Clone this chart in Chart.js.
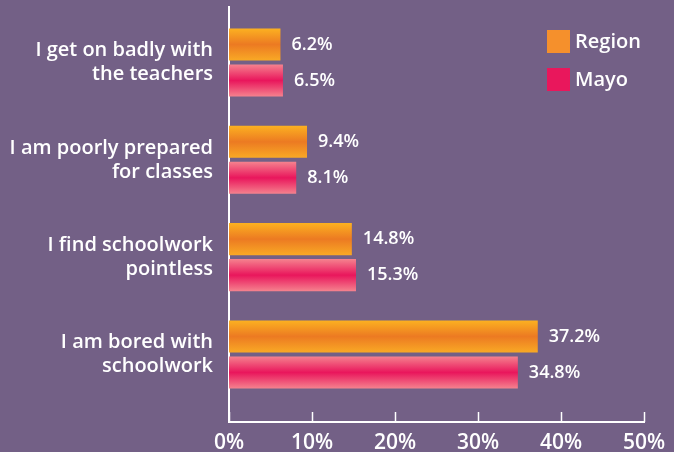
<!DOCTYPE html>
<html>
<head>
<meta charset="utf-8">
<script src="https://cdn.jsdelivr.net/npm/chart.js@4/dist/chart.umd.min.js"></script>
<style>
  html, body { margin: 0; padding: 0; background: #736086; }
  #wrap { width: 674px; height: 452px; }
</style>
</head>
<body>
<div id="wrap"><canvas id="c"></canvas></div>
<script>
const categories = [
  ["I get on badly with", "the teachers"],
  ["I am poorly prepared", "for classes"],
  ["I find schoolwork", "pointless"],
  ["I am bored with", "schoolwork"]
];
const seriesNames = ["Region", "Mayo"];
const regionValues = [6.2, 9.4, 14.8, 37.2];
const mayoValues = [6.5, 8.1, 15.3, 34.8];
const xTicks = [0, 10, 20, 30, 40, 50];

const FONT = "'Open Sans', sans-serif";
const CAT_PCT = 0.74, BAR_PCT = 0.89;

function gradFill(stops, solid) {
  return function (ctx) {
    const chart = ctx.chart;
    const ys = chart.scales.y;
    if (!chart.chartArea || !ys || ctx.dataIndex === undefined) return solid;
    const c = ys.getPixelForValue(ctx.dataIndex);
    const ppu = Math.abs(ys.getPixelForValue(1) - ys.getPixelForValue(0));
    const slot = ppu * CAT_PCT / 2;
    const th = slot * BAR_PCT;
    const center = c + (ctx.datasetIndex === 0 ? -slot / 2 : slot / 2);
    const g = chart.ctx.createLinearGradient(0, center - th / 2, 0, center + th / 2);
    g.addColorStop(0, stops[0]);
    g.addColorStop(0.5, stops[1]);
    g.addColorStop(1, stops[2]);
    return g;
  };
}

const legendColors = ["#f5902c", "#e9175c"];

const extras = {
  id: 'extras',
  afterDraw(chart) {
    const ctx = chart.ctx;
    const xs = chart.scales.x;
    const area = chart.chartArea;
    ctx.save();
    // upward tick marks on x axis
    ctx.strokeStyle = '#ffffff';
    ctx.lineWidth = 1.5;
    xTicks.forEach(v => {
      const px = Math.round(xs.getPixelForValue(v)) + 0.5;
      ctx.beginPath();
      ctx.moveTo(px, area.bottom);
      ctx.lineTo(px, area.bottom - 10);
      ctx.stroke();
    });
    // value labels
    ctx.fillStyle = '#ffffff';
    ctx.font = "600 18px " + FONT;
    ctx.textBaseline = 'middle';
    ctx.textAlign = 'left';
    chart.data.datasets.forEach((ds, di) => {
      const meta = chart.getDatasetMeta(di);
      meta.data.forEach((bar, i) => {
        const v = ds.data[i].x;
        ctx.fillText(v.toFixed(1) + '%', bar.x + 11, bar.y);
      });
    });
    // legend
    ctx.font = "600 20px " + FONT;
    chart.data.datasets.forEach((ds, di) => {
      const top = 30 + di * 38;
      ctx.fillStyle = legendColors[di];
      ctx.fillRect(547, top, 23, 23);
      ctx.fillStyle = '#ffffff';
      ctx.fillText(ds.label, 575, top + 12);
    });
    ctx.restore();
  }
};

new Chart(document.getElementById('c'), {
  type: 'bar',
  data: {
    datasets: [
      {
        label: seriesNames[0],
        data: regionValues.map((v, i) => ({ x: v, y: i })),
        backgroundColor: gradFill(["#fcb121", "#ec7a22", "#f9a925"], legendColors[0]),
        categoryPercentage: CAT_PCT,
        barPercentage: BAR_PCT
      },
      {
        label: seriesNames[1],
        data: mayoValues.map((v, i) => ({ x: v, y: i })),
        backgroundColor: gradFill(["#f5828e", "#e9165c", "#f5828e"], legendColors[1]),
        categoryPercentage: CAT_PCT,
        barPercentage: BAR_PCT
      }
    ]
  },
  options: {
    indexAxis: 'y',
    responsive: true,
    maintainAspectRatio: false,
    animation: false,
    layout: { padding: { top: 7, right: 30, left: 0, bottom: 0 } },
    plugins: {
      legend: { display: false },
      tooltip: { enabled: false }
    },
    scales: {
      x: {
        type: 'linear',
        min: 0,
        max: 50,
        offset: false,
        grid: { display: false, drawTicks: false },
        border: { display: true, color: '#ffffff', width: 2 },
        afterBuildTicks: s => { s.ticks = xTicks.map(v => ({ value: v })); },
        afterFit: s => { s.height = 30; s.paddingLeft = 0; s.paddingRight = 0; },
        ticks: {
          color: '#ffffff',
          padding: 8,
          font: { family: FONT, size: 21, weight: '600' },
          callback: v => v + '%'
        }
      },
      y: {
        type: 'linear',
        reverse: true,
        min: -0.57,
        max: 3.694,
        offset: false,
        bounds: 'data',
        grid: { display: false, drawTicks: false, offset: false },
        border: { display: true, color: '#ffffff', width: 2 },
        afterBuildTicks: s => { s.ticks = categories.map((_, i) => ({ value: i })); },
        afterFit: s => { s.width = 229; s.paddingTop = 0; s.paddingBottom = 0; },
        ticks: {
          color: '#ffffff',
          padding: 16,
          font: { family: FONT, size: 20, weight: '600', lineHeight: 1.2 },
          callback: (v) => categories[v]
        }
      }
    }
  },
  plugins: [extras]
});
</script>
</body>
</html>
